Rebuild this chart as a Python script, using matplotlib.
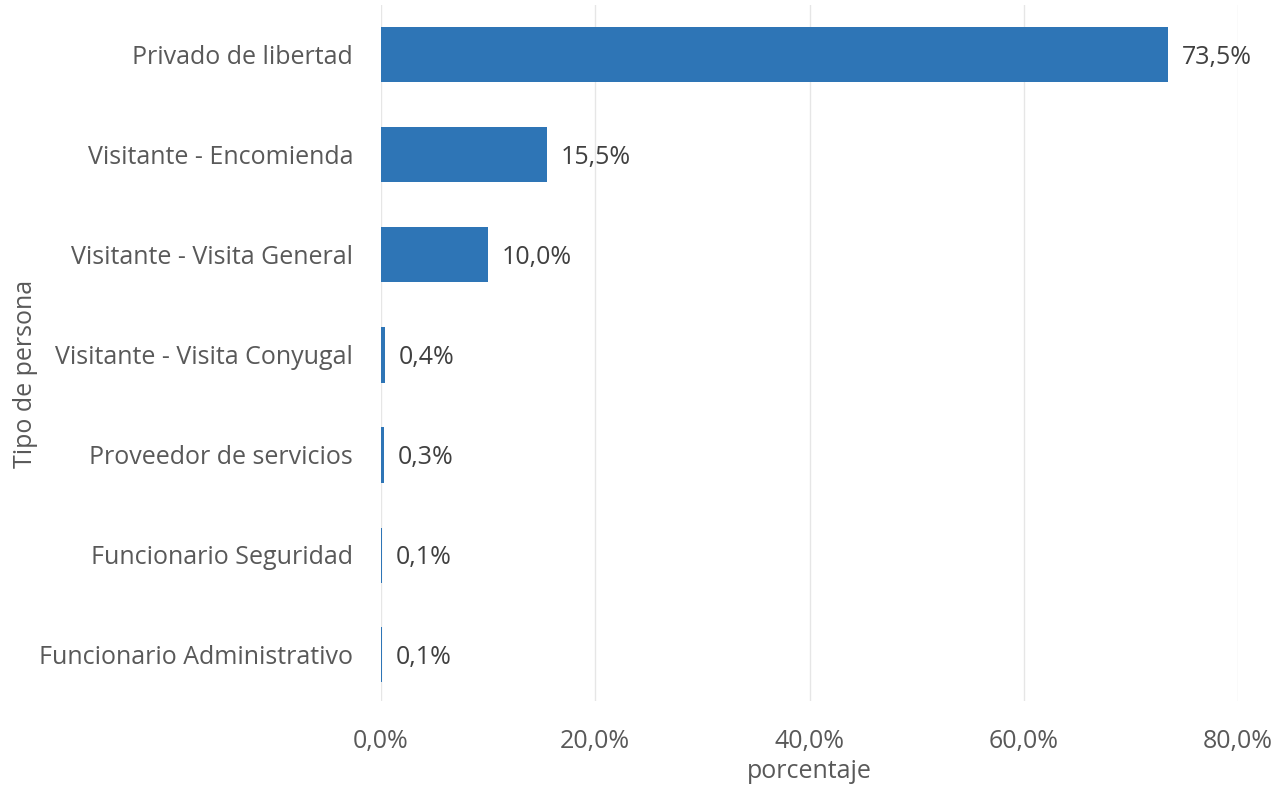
import matplotlib.pyplot as plt
import numpy as np

categorias = ["Privado de libertad", "Visitante - Encomienda", "Visitante - Visita General",
              "Visitante - Visita Conyugal", "Proveedor de servicios",
              "Funcionario Seguridad", "Funcionario Administrativo"]
porcentajes = [73.5, 15.5, 10.0, 0.4, 0.3, 0.1, 0.1]
xticks = [0, 20, 40, 60, 80]

gris = "#595959"
plt.rcParams['font.family'] = ['Open Sans', 'DejaVu Sans']
fs = 18

fig = plt.figure(figsize=(12.86, 7.90), dpi=100)
ax = fig.add_axes([381/1286, 1-701/790, (1238-381)/1286, 696/790])

y = np.arange(len(categorias))
ax.barh(y, porcentajes, height=0.55, color="#2E75B6", linewidth=0, zorder=3)
for yi, v in zip(y, porcentajes):
    ax.annotate(f"{v:.1f}%".replace(".", ","), (v, yi), xytext=(10, -2),
                textcoords="offset points", va="center", ha="left",
                fontsize=fs, color="#404040")

ax.set_xlim(0, 80)
ax.set_ylim(len(categorias) - 0.54, -0.5)
ax.set_yticks(y)
ax.set_yticklabels(categorias)
ax.set_xticks(xticks)
ax.set_xticklabels([f"{t:.1f}%".replace(".", ",") for t in xticks])
ax.tick_params(axis="both", length=0, labelsize=fs, labelcolor=gris)
ax.tick_params(axis="x", pad=20)
ax.tick_params(axis="y", pad=20)
for s in ax.spines.values():
    s.set_visible(False)
ax.grid(axis="x", color="#e6e6e6", linewidth=1, zorder=0)
ax.axvline(0, color="#c8c8c8", linewidth=1.2, zorder=1)

ax.set_xlabel("porcentaje", fontsize=fs, color=gris, labelpad=4)
ax.set_ylabel("Tipo de persona", fontsize=fs, color=gris)
ax.yaxis.set_label_coords(-0.40, 0.47)

fig.savefig("out.png", dpi=100)
